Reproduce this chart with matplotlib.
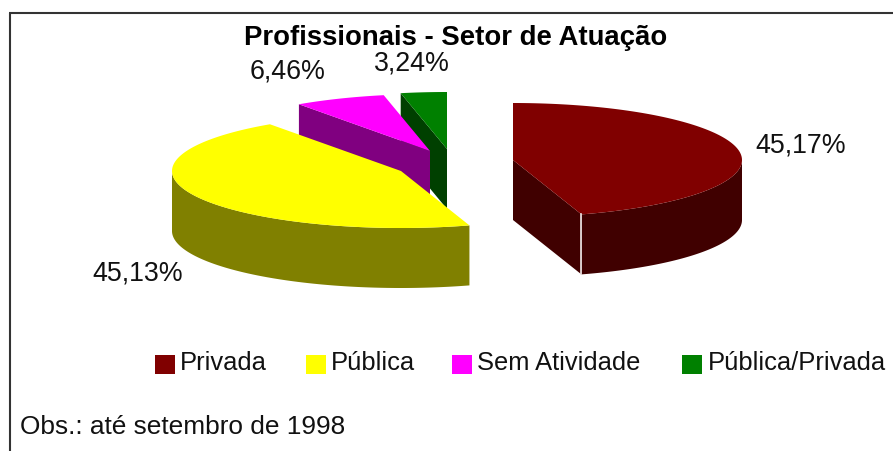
import numpy as np
import matplotlib
matplotlib.use('Agg')
import matplotlib.pyplot as plt
from matplotlib.patches import Polygon, Rectangle

plt.rcParams['font.family'] = ['Liberation Sans', 'DejaVu Sans']

categories = ['Privada', 'Pública', 'Sem Atividade', 'Pública/Privada']
values = [45.17, 45.13, 6.46, 3.24]
labels = ['45,17%', '45,13%', '6,46%', '3,24%']
top_colors = ['#800000', '#ffff00', '#ff00ff', '#008000']
side_colors = ['#400000', '#808000', '#800080', '#004000']

# layout in pixels, the pie is exploded so each slice has its own centre
centres = [(513, 161), (401, 172), (430, 152), (447, 150)]
rx, ry, depth = 229, 57, 60
draw_order = [3, 2, 1, 0]
label_pos = [(755, 153), (92, 281), (250, 78), (374, 70)]
legend_box_x = [155, 306, 452, 682]
legend_text_x = [180, 331, 477, 708]

fig = plt.figure(figsize=(8.93, 4.52), dpi=100)
ax = fig.add_axes([0, 0, 1, 1])
ax.set_xlim(0, 893)
ax.set_ylim(452, 0)
ax.axis('off')


def arc(cx, cy, a0, a1):
    # angles in degrees, clockwise from the top
    t = np.radians(np.linspace(a0, a1, 120))
    return np.column_stack([cx + rx * np.sin(t), cy - ry * np.cos(t)])


starts = np.concatenate([[0], np.cumsum(values)[:-1]]) * 3.6
ends = np.cumsum(values) * 3.6

for i in draw_order:
    cx, cy = centres[i]
    a0, a1 = starts[i], ends[i]
    side = side_colors[i]
    z = 2 + draw_order.index(i)

    # cut faces, only the ones turned to the viewer
    for a in (a0, a1):
        p = arc(cx, cy, a, a)[0]
        if (i == 0 and a == a1) or (i >= 2 and a == a0):
            ax.add_patch(Polygon([(cx, cy), p, p + [0, depth], (cx, cy + depth)],
                                 fc=side, ec='none', zorder=z))

    # outer wall where the rim is at the front
    w0, w1 = max(a0, 90), min(a1, 270)
    if w1 > w0:
        rim = arc(cx, cy, w0, w1)
        wall = np.vstack([rim, (rim + [0, depth])[::-1]])
        ax.add_patch(Polygon(wall, fc=side, ec='none', zorder=z))

    top = np.vstack([[(cx, cy)], arc(cx, cy, a0, a1)])
    ax.add_patch(Polygon(top, fc=top_colors[i], ec='none', zorder=z + 0.5))

# white seam on the front corner of the first slice
seam = arc(centres[0][0], centres[0][1], ends[0], ends[0])[0]
ax.plot([seam[0], seam[0]], [seam[1], seam[1] + depth], color='#f0e8e8', lw=1.2, zorder=8)

for lab, (x, y) in zip(labels, label_pos):
    ax.text(x, y, lab, fontsize=19.3, color='#111111', va='baseline', ha='left')

ax.text(456, 45, 'Profissionais - Setor de Atuação', fontsize=19.8, fontweight='bold',
        color='black', ha='center', va='baseline')

for name, c, bx, tx in zip(categories, top_colors, legend_box_x, legend_text_x):
    ax.add_patch(Rectangle((bx, 356), 20, 19, fc=c, ec='none'))
    ax.text(tx, 370, name, fontsize=18.4, color='#111111', va='baseline', ha='left')

ax.text(20, 434, 'Obs.: até setembro de 1998', fontsize=18.9, color='#111111', va='baseline', ha='left')

# frame, only top and left are inside the picture
ax.plot([9.5, 9.5], [452, 14], color='#333333', lw=1.5, solid_capstyle='butt')
ax.plot([9, 893], [14, 14], color='#333333', lw=1.5, solid_capstyle='butt')

fig.savefig('out.png', dpi=100)
